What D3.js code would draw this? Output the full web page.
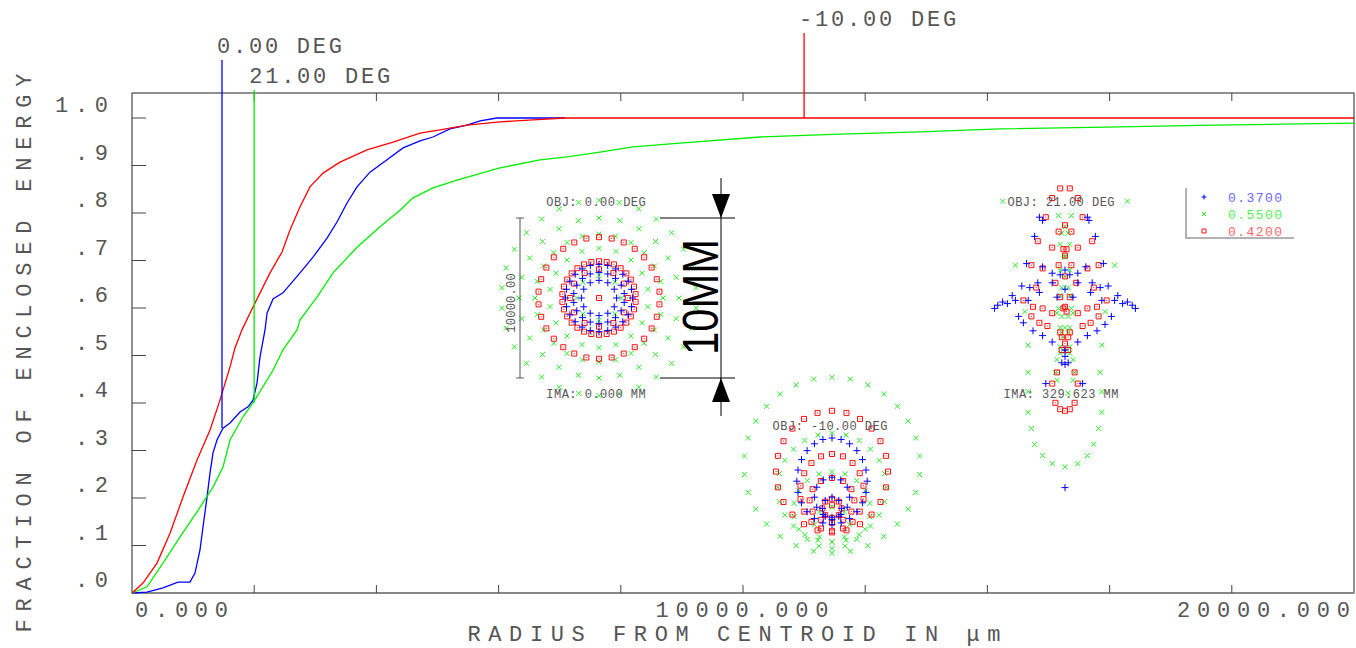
<!DOCTYPE html>
<html>
<head>
<meta charset="utf-8">
<script src="https://cdn.jsdelivr.net/npm/d3@7"></script>
<style>
body { margin: 0; background: #fff; }
text { font-family: "Liberation Mono", "DejaVu Sans Mono", monospace; fill: #555; }
</style>
</head>
<body>
<svg width="1356" height="648"></svg>
<script>
// enclosed energy curves: [radius in um, fraction]
var curve0 = [[0,0],[245,.002],[507,.011],[753,.023],[949,.023],[1031,.042],[1113,.091],[1162,.139],
  [1228,.202],[1277,.253],[1326,.295],[1391,.322],[1489,.347],[1604,.358],[1768,.381],[1899,.392],
  [1980,.406],[2046,.442],[2095,.497],[2177,.554],[2210,.589],[2308,.619],[2471,.632],[2750,.674],
  [2962,.707],[3192,.747],[3355,.781],[3519,.821],[3683,.855],[3895,.886],[4174,.912],[4436,.937],
  [4714,.952],[4926,.960],[5205,.977],[5483,.985],[5696,.994],[5974,1],[7087,1]];
var curve21 = [[0,0],[245,.013],[507,.063],[786,.118],[1064,.171],[1326,.223],[1489,.265],[1604,.322],
  [1817,.371],[1980,.4],[2308,.469],[2471,.512],[2701,.554],[2750,.575],[3028,.623],[3290,.674],
  [3683,.728],[4059,.771],[4386,.806],[4599,.832],[4926,.853],[5319,.869],[6023,.895],[6678,.912],
  [7120,.918],[7660,.928],[8200,.939],[8969,.947],[10278,.96],[11588,.966],[12897,.971],[14206,.977],
  [15941,.981],[17693,.985],[18822,.987],[20000,.989]];
var curveM10 = [[0,0],[180,.021],[409,.063],[622,.126],[835,.202],[1064,.28],[1277,.343],[1440,.406],
  [1604,.476],[1686,.516],[1800,.554],[1980,.602],[2259,.674],[2455,.718],[2586,.764],[2750,.813],
  [2913,.855],[3126,.884],[3404,.907],[3846,.933],[4272,.949],[4714,.968],[5041,.975],[5483,.985],
  [6023,.992],[6563,.996],[7087,1],[20000,1]];

var fields = ["0.00 DEG", "21.00 DEG", "-10.00 DEG"];
var fieldColors = ["#0000ff", "#00ee00", "#ff0000"];
var markerRadius = [1473, 2000, 11000];
var markerEnergy = [0.347, 0.40, 1.0];

var yTicks = [0, .1, .2, .3, .4, .5, .6, .7, .8, .9, 1];
var yTickLabels = [".0", ".1", ".2", ".3", ".4", ".5", ".6", ".7", ".8", ".9", "1.0"];
var xTicks = [2000, 4000, 6000, 8000, 10000, 12000, 14000, 16000, 18000];
var xLabelValues = [0, 10000, 20000];
var xLabels = ["0.000", "10000.000", "20000.000"];

// spot diagrams, mm on the image plane (y up)
var wavelengths = ["0.3700", "0.5500", "0.4200"];
var spotColors = ["#0000ff", "#22ee22", "#ff1010"];
var spotFields = ["OBJ: 0.00 DEG", "OBJ: 21.00 DEG", "OBJ: -10.00 DEG"];
var spotIma = ["IMA: 0.000 MM", "IMA: 329.623 MM"];

// rings: [cx, cy, rx, ry, rays]
var spot0Blue = [[0,0,2.1,2.1,24],[0,0,1.6,1.6,18],[0,0,1.1,1.1,12]];
var spot0Green = [[0,0,6.1,6.1,30],[0,0,5.0,5.0,24],[0,0,4.0,4.0,24],[0,0,3.1,3.1,18],[0,0,1.4,1.4,8]];
var spot0Red = [[0,0,3.8,3.8,30],[0,0,2.3,2.3,30],[0,0,1.8,1.8,12],[0,0,0,0,1]];
var spotM10Blue = [[0,-0.7,2.2,2.7,24],[0,-1.7,1.1,1.25,12],[0,-2.4,0.6,0.7,8]];
var spotM10Green = [[0,0.3,5.5,5.5,30],[0,-1.1,3.4,3.4,24],[0,-2.5,2.4,2.4,18],[0,-3.4,1.1,1.1,8]];
var spotM10Red = [[0,-0.1,3.5,3.8,24],[0,-1.4,2.0,2.4,18],[0,-1.9,1.4,1.4,12],[0,-2.4,0.6,0.6,8],[0,-2.2,0,0,1]];

// 21 deg field: individual ray hits [x, y]
var spot21Blue = [[-1.6,5.8],[-1.4,5.6],[1.4,5.8],[1.5,5.6],[-1.9,4.6],[1.9,4.6],[-2.4,2.9],[2.4,2.9],
  [-1.4,2.7],[1.3,2.7],[-0.8,2.3],[0.8,2.3],[-0.3,2.2],[0.3,2.2],[-1.7,1.7],[1.7,1.7],[-0.8,1.7],[0.8,1.7],
  [-2.7,1.5],[2.7,1.5],[-2.2,1.4],[2.2,1.4],[-3.3,0.9],[3.3,0.9],[-1.6,1.1],[1.6,1.1],[-3.9,0.5],[3.9,0.5],
  [-3.1,0.6],[3.1,0.6],[-2.3,0.6],[2.3,0.6],[-4.4,0.1],[4.4,0.1],[-4.2,0.3],[4.2,0.3],[-3.6,0.4],[3.6,0.4],
  [-2.9,-0.4],[2.9,-0.4],[-2.6,-0.8],[2.5,-0.9],[-2,-1.3],[2,-1.3],[-1.4,-1.6],[1.4,-1.6],[-0.8,-2],[0.8,-2],
  [0,-2.5],[0,-2.9],[0,-3.4],[-0.2,-3.3],[0.2,-3.3],[-1.2,-4.6],[1.1,-4.6],[0,-11.1],[-0.5,0.8],[0.5,0.8],
  [0,1.3],[0,2.5]];
var spot21Green = [[-3.9,6.8],[3.9,6.8],[-0.4,5.9],[0.4,5.9],[0,5.2],[-0.2,4.8],[0.2,4.8],[-0.3,4.1],[0.3,4.1],
  [0,3.4],[0,3.3],[-3.1,2.8],[3.1,2.8],[-0.3,2.5],[0.3,2.5],[0,2.1],[-0.2,1.4],[0.2,1.4],[-0.3,0.9],[0.3,0.9],
  [-0.4,0.1],[0.4,0.1],[-0.5,-0.2],[0.5,-0.2],[-2.5,-0.1],[2.5,-0.1],[-0.2,-0.4],[0.2,-0.4],[-0.3,-1.1],
  [0,-1.1],[0.3,-1.1],[-0.2,-1.4],[0.2,-1.4],[-0.1,-1.7],[-2.3,-2.2],[2.3,-2.2],[-0.3,-2.3],[0.3,-2.3],
  [0,-2.6],[-0.3,-2.7],[0.3,-2.7],[-0.5,-3.1],[0.5,-3.1],[-2.3,-3.9],[2.2,-3.9],[-0.6,-3.9],[0.6,-3.9],
  [-0.5,-4.4],[0.5,-4.4],[-2.3,-5.1],[2.3,-5.1],[0.2,-5.2],[-2.3,-6.4],[2.3,-6.4],[-2.1,-7.4],[2.1,-7.4],
  [-1.9,-8.4],[1.8,-8.4],[-1.4,-9.1],[1.4,-9.1],[-0.8,-9.6],[0.8,-9.6],[0,-9.8]];
var spot21Red = [[-0.3,7.6],[0.3,7.6],[-0.8,7],[0.8,7],[-1.2,5.8],[1.1,5.8],[0,5.3],[-0.4,4.9],[0.4,4.9],
  [-1.7,4.3],[1.7,4.3],[-0.8,3.9],[0.8,3.9],[-0.1,3.8],[0.1,3.8],[0,3.4],[-2.1,2.8],[2.1,2.8],[-1.4,2.6],
  [1.4,2.6],[-0.4,2.8],[0.4,2.8],[0,2.1],[-1.8,1.4],[1.8,1.4],[-0.6,1.7],[0.7,1.7],[-2.6,0.6],[2.6,0.6],
  [-2,0.2],[2,0.2],[-1.4,0.1],[1.4,0.1],[-0.3,0.8],[0.3,0.8],[-0.8,-0.2],[0.8,-0.2],[-0.1,0.1],[0.1,-0.1],
  [0,0.2],[-2.1,-0.4],[2.1,-0.4],[-1.6,-0.8],[1.6,-0.8],[-1.1,-1],[1.1,-1],[-0.3,-1.4],[0.3,-1.4],
  [-0.2,-1.7],[0.2,-1.7],[0,-2.1],[-0.2,-2.5],[0.2,-2.5],[-0.5,-3.9],[0.6,-3.9],[-0.8,-4.6],[0.8,-4.6],
  [-0.6,-5.8],[0.6,-5.8],[-0.3,-6.2],[0,-6.3],[0.3,-6.2]];

var svg = d3.select("svg"),
  margin = {top: 93, right: 2, bottom: 55, left: 132},
  width = +svg.attr("width") - margin.left - margin.right,
  height = +svg.attr("height") - margin.top - margin.bottom,
  g = svg.append("g").attr("transform", "translate(" + margin.left + "," + margin.top + ")");

var x = d3.scaleLinear().domain([0, 20000]).range([0, width]);
var y = d3.scaleLinear().domain([0, 1]).range([height, 25]);

// spread monospace text to the plotter's character pitch
function pitch(sel, step, glyph) {
  sel.attr("lengthAdjust", "spacing")
    .attr("textLength", function(d) { var s = d3.select(this).text(); return (s.length - 1) * step + glyph; });
}

// frame
g.append("rect")
  .attr("width", width).attr("height", height)
  .attr("fill", "none").attr("stroke", "#222").attr("stroke-width", 1);
g.append("line")
  .attr("x1", 0).attr("x2", width).attr("y1", height).attr("y2", height)
  .attr("stroke", "#888").attr("stroke-width", 2);

g.selectAll(".ytick").data(yTicks.slice(1)).enter().append("line")
  .attr("x1", 0).attr("x2", 14)
  .attr("y1", function(d) { return y(d); }).attr("y2", function(d) { return y(d); })
  .attr("stroke", "#444");
g.selectAll(".xtickb").data(xTicks).enter().append("line")
  .attr("x1", function(d) { return x(d); }).attr("x2", function(d) { return x(d); })
  .attr("y1", height).attr("y2", height - 8).attr("stroke", "#444");
g.selectAll(".xtickt").data(xTicks).enter().append("line")
  .attr("x1", function(d) { return x(d); }).attr("x2", function(d) { return x(d); })
  .attr("y1", 0).attr("y2", 8).attr("stroke", "#444");

g.selectAll(".ylab").data(yTicks).enter().append("text")
  .attr("x", -24)
  .attr("y", function(d) { return y(d) - 6; })
  .attr("text-anchor", "end")
  .attr("font-size", 22)
  .text(function(d, i) { return yTickLabels[i]; })
  .call(pitch, 20, 13);

g.selectAll(".xlab").data(xLabelValues).enter().append("text")
  .attr("x", function(d, i) { return x(d) + (i == 0 ? 3 : i == 2 ? -4 : -1); })
  .attr("y", height + 24)
  .attr("text-anchor", function(d, i) { return ["start", "middle", "end"][i]; })
  .attr("font-size", 22)
  .text(function(d, i) { return xLabels[i]; })
  .call(pitch, 20, 13);

svg.append("text")
  .attr("transform", "translate(31,353) rotate(-90)")
  .attr("text-anchor", "middle")
  .attr("font-size", 22)
  .text("FRACTION OF ENCLOSED ENERGY")
  .call(pitch, 21, 13);

svg.append("text")
  .attr("x", 734).attr("y", 641)
  .attr("text-anchor", "middle")
  .attr("font-size", 22)
  .text("RADIUS FROM CENTROID IN \u03bcm")
  .call(pitch, 20.8, 13);

// curves
var line = d3.line()
  .x(function(d) { return x(d[0]); })
  .y(function(d) { return y(d[1]); });

g.selectAll(".curve").data([curve0, curve21, curveM10]).enter().append("path")
  .attr("d", line)
  .attr("fill", "none")
  .attr("stroke", function(d, i) { return fieldColors[i]; })
  .attr("stroke-width", 1.3);

// field markers above the plot
var labelBase = [53, 83, 26];
g.selectAll(".marker").data(markerRadius).enter().append("line")
  .attr("x1", function(d) { return x(d); }).attr("x2", function(d) { return x(d); })
  .attr("y1", function(d, i) { return labelBase[i] + 7 - margin.top; })
  .attr("y2", function(d, i) { return y(markerEnergy[i]); })
  .attr("stroke", function(d, i) { return fieldColors[i]; })
  .attr("stroke-width", 1.3);

g.selectAll(".mlabel").data(markerRadius).enter().append("text")
  .attr("x", function(d) { return x(d) - 5; })
  .attr("y", function(d, i) { return labelBase[i] - margin.top; })
  .attr("font-size", 22)
  .text(function(d, i) { return fields[i]; })
  .call(pitch, 16, 13);

// spot diagrams
var s = d3.scaleLinear().domain([0, 10]).range([0, 160]);

function ringPoints(rings) {
  var pts = [];
  rings.forEach(function(r) {
    for (var k = 0; k < r[4]; k++) {
      var a = Math.PI / 2 + 2 * Math.PI * k / r[4];
      pts.push([r[0] + r[2] * Math.cos(a), r[1] + r[3] * Math.sin(a)]);
    }
  });
  return pts;
}

var symbols = [
  "M-3.5,0H3.5M0,-3.5V3.5",
  "M-2.5,-2.5L2.5,2.5M-2.5,2.5L2.5,-2.5",
  "M-2.5,-2.5H2.5V2.5H-2.5Z M-0.5,0H0.5"
];

var spotCenters = [[599, 298], [1065, 310], [832, 470]];
var spotData = [
  [ringPoints(spot0Blue), ringPoints(spot0Green), ringPoints(spot0Red)],
  [spot21Blue, spot21Green, spot21Red],
  [ringPoints(spotM10Blue), ringPoints(spotM10Green), ringPoints(spotM10Red)]
];

var spots = svg.append("g");
spotData.forEach(function(field, f) {
  var c = spotCenters[f];
  [1, 2, 0].forEach(function(w) {
    spots.append("g").selectAll("path").data(field[w]).enter().append("path")
      .attr("transform", function(d) { return "translate(" + (c[0] + s(d[0])) + "," + (c[1] - s(d[1])) + ")"; })
      .attr("d", symbols[w])
      .attr("fill", "none")
      .attr("stroke", spotColors[w])
      .attr("stroke-width", 1);
  });
});

var objPos = [[596, 206], [1061, 206], [830, 430]];
var imaPos = [[596, 398], [1061, 398]];
spots.selectAll(".obj").data(spotFields).enter().append("text")
  .attr("x", function(d, i) { return objPos[i][0]; })
  .attr("y", function(d, i) { return objPos[i][1]; })
  .attr("text-anchor", "middle").attr("font-size", 12)
  .text(function(d) { return d; })
  .call(pitch, 7.7, 7);
spots.selectAll(".ima").data(spotIma).enter().append("text")
  .attr("x", function(d, i) { return imaPos[i][0]; })
  .attr("y", function(d, i) { return imaPos[i][1]; })
  .attr("text-anchor", "middle").attr("font-size", 12)
  .text(function(d) { return d; })
  .call(pitch, 7.7, 7);

// box size bracket (10000.00 um)
var bx = 520, bTop = spotCenters[0][1] - s(5), bBot = spotCenters[0][1] + s(5);
spots.append("path")
  .attr("d", "M" + (bx - 4) + "," + bTop + "H" + (bx + 4) + "M" + bx + "," + bTop + "V" + bBot +
    "M" + (bx - 4) + "," + bBot + "H" + (bx + 4))
  .attr("stroke", "#555").attr("fill", "none");
spots.append("text")
  .attr("transform", "translate(515,303) rotate(-90)")
  .attr("text-anchor", "middle").attr("font-size", 12)
  .text("10000.00")
  .call(pitch, 7.5, 7);

// scale bar
var sb = 721;
spots.append("path")
  .attr("d", "M660," + bTop + "H735M660," + bBot + "H735M" + sb + ",178V416")
  .attr("stroke", "#000").attr("fill", "none");
spots.append("path")
  .attr("d", "M" + sb + "," + bTop + "l-9,-24h18z M" + sb + "," + bBot + "l-9,24h18z")
  .attr("fill", "#000");
spots.append("text")
  .attr("transform", "translate(718,297) rotate(-90)")
  .attr("text-anchor", "middle")
  .style("font-family", "'Liberation Sans', Arial, sans-serif")
  .style("fill", "#000")
  .attr("font-size", 50)
  .attr("textLength", 116).attr("lengthAdjust", "spacingAndGlyphs")
  .text("10MM");

// legend
var legendSymbols = ["M-2.5,0H2.5M0,-2.5V2.5", "M-2,-2L2,2M-2,2L2,-2", "M-2,-2H2V2H-2Z"];
var legend = svg.append("g");
legend.append("path")
  .attr("d", "M1186,188V238H1294")
  .attr("stroke", "#999").attr("fill", "none").attr("stroke-width", 1.5);
var item = legend.selectAll(".item").data(wavelengths).enter().append("g")
  .attr("transform", function(d, i) { return "translate(1204," + (197 + i * 17) + ")"; });
item.append("path")
  .attr("d", function(d, i) { return legendSymbols[i]; })
  .attr("fill", "none")
  .attr("stroke", function(d, i) { return spotColors[i]; });
item.append("text")
  .attr("x", 24).attr("y", 5)
  .attr("font-size", 13)
  .style("fill", function(d, i) { return ["#6666ff", "#55ee55", "#ff6666"][i]; })
  .text(function(d) { return d; })
  .call(pitch, 9.2, 8);
</script>
</body>
</html>
